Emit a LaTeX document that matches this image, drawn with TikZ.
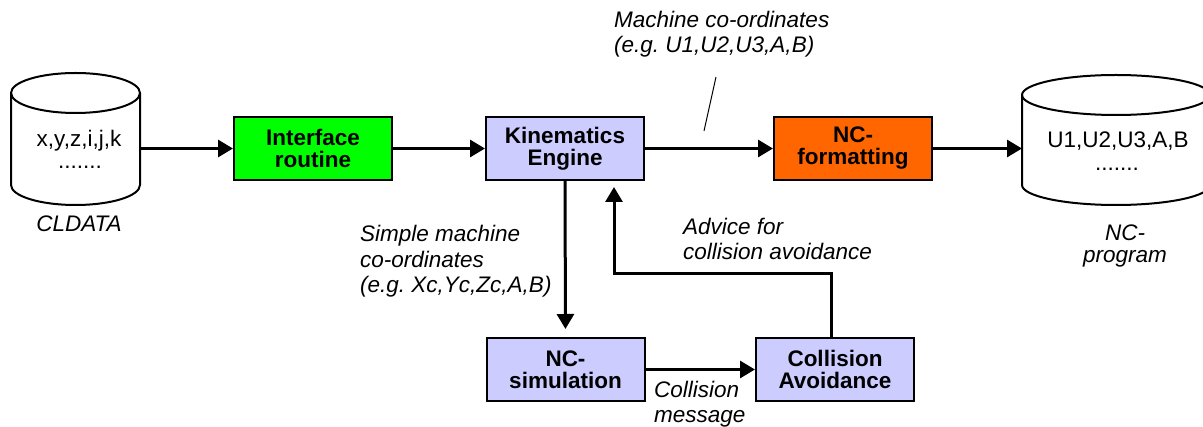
\documentclass[tikz,border=0pt]{standalone}
\usepackage{fontspec}
\setmainfont{Liberation Sans}
\usetikzlibrary{arrows.meta}
\definecolor{boxgreen}{RGB}{0,255,0}
\definecolor{boxorange}{RGB}{255,102,0}
\definecolor{boxlav}{RGB}{204,204,255}
\frenchspacing
\begin{document}
\begin{tikzpicture}[x=1pt,y=-1pt,
  every node/.style={font=\fontsize{22.5}{25}\selectfont, inner sep=0pt},
  procbox/.style={draw, line width=2pt, minimum width=158pt, minimum height=63pt, align=center, font=\fontsize{22.5}{22}\selectfont\bfseries},
  flow/.style={line width=3pt, -{Triangle[length=15pt,width=17pt]}},
  lbl/.style={font=\fontsize{22.5}{25.5}\selectfont\itshape\frenchspacing, align=left, anchor=base west},
  cyl/.style={line width=2pt}]
\useasboundingbox (0,0) rectangle (1203,427);
\clip (0,0) rectangle (1203,427);
% left cylinder
\draw[cyl] (11,93) -- (11,185) arc[start angle=180,end angle=0,x radius=64.5,y radius=20] -- (140,93);
\draw[cyl] (75.5,93) ellipse [x radius=64.5, y radius=20];
\node[anchor=base] (cA) at (79,147) {x,y,z,i,j,k};
\node[anchor=base] (cAd) at (80,169) {.......};
\node[anchor=base, font=\fontsize{22.5}{25}\selectfont\itshape] (cldata) at (79,232) {CLDATA};
\coordinate (cAe) at (140,148.5);
% right cylinder
\draw[cyl] (1022,95) -- (1022,185) arc[start angle=180,end angle=0,x radius=94,y radius=20] -- (1210,95);
\draw[cyl] (1116,95) ellipse [x radius=94, y radius=20];
\node[anchor=base] (cB) at (1118,148) {U1,U2,U3,A,B};
\node[anchor=base] (cBd) at (1117,171) {.......};
\node[anchor=base, align=center, font=\fontsize{22.5}{22}\selectfont\itshape] (ncp) at (1125,263) {NC-\\program};
\coordinate (cBw) at (1022,148.5);
% boxes
\node[procbox, fill=boxgreen] (iface) at (313,148.5) {Interface\\routine};
\node[procbox, fill=boxlav] (kin) at (565,148.5) {Kinematics\\Engine};
\node[procbox, fill=boxorange] (nform) at (853,148.5) {NC-\\formatting};
\node[procbox, fill=boxlav] (nsim) at (565.5,369.5) {NC-\\simulation};
\node[procbox, fill=boxlav] (coll) at (835,369.5) {Collision\\Avoidance};
% connectors
\draw[flow] (cAe) -- (iface.west);
\draw[flow] (iface.east) -- (kin.west);
\draw[flow] (kin.east) -- (nform.west);
\draw[flow] (nform.east) -- (cBw);
\draw[flow, shorten >=8pt] (kin.south) -- (nsim.north);
\draw[flow] (nsim.east) -- (coll.west);
\coordinate (bend) at (614,274);
\draw[flow, shorten >=6pt] ([xshift=-4pt]coll.north) |- (bend) -- (bend |- kin.south);
% labels
\coordinate (s1) at (716,77);
\coordinate (s2) at (704,131);
\draw[line width=1pt] (s1) -- (s2);
\node[lbl] (mlab) at (614,53) {Machine co-ordinates\\(e.g. U1,U2,U3,A,B)};
\node[lbl] (slab) at (360,293) {Simple machine\\co-ordinates\\(e.g. Xc,Yc,Zc,A,B)};
\node[lbl] (alab) at (683,260) {Advice for\\collision avoidance};
\node[lbl] (clab) at (654,423) {Collision\\message};
\end{tikzpicture}
\end{document}
